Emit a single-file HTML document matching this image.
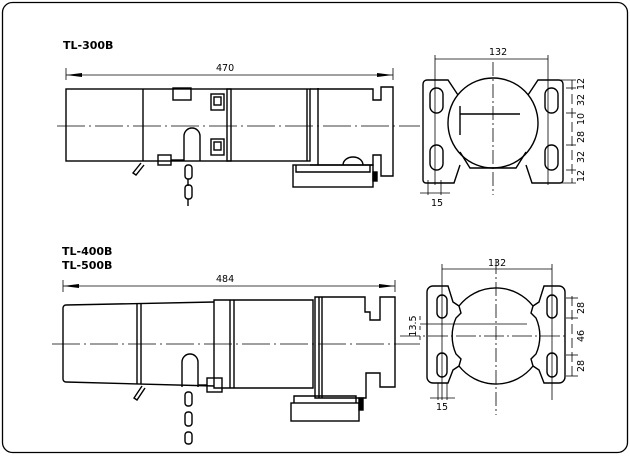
<!DOCTYPE html>
<html><head><meta charset="utf-8"><style>
html,body{margin:0;padding:0;background:#fff;width:630px;height:458px;overflow:hidden}
svg{display:block}
text{font-family:"DejaVu Sans","Liberation Sans",sans-serif;fill:#000}
</style></head><body>
<svg width="630" height="458" viewBox="0 0 630 458" xmlns="http://www.w3.org/2000/svg">
<rect x="2.5" y="2.5" width="625" height="450" rx="10" fill="none" stroke="#000" stroke-width="1.3"/>
<g fill="none" stroke="#000" stroke-width="1.4">
<line x1="66" y1="75" x2="393" y2="75" stroke-width="0.8"/>
<line x1="66" y1="68" x2="66" y2="80" stroke-width="0.8"/>
<line x1="393" y1="68" x2="393" y2="80" stroke-width="0.8"/>
<path d="M66 75 L82 73 L82 77Z M393 75 L377 73 L377 77Z" fill="#000" stroke="none"/>
<line x1="57" y1="126" x2="420" y2="126" stroke-width="0.8" stroke-dasharray="28 4 2 4"/>
<rect x="66" y="89" width="244" height="72"/>
<line x1="143" y1="89" x2="143" y2="161"/>
<rect x="227" y="89" width="4" height="72"/>
<rect x="173" y="88" width="18" height="12"/>
<rect x="211" y="94" width="13" height="16"/><rect x="214" y="97" width="7" height="8"/>
<rect x="211" y="139" width="13" height="16"/><rect x="214" y="142" width="7" height="8"/>
<path d="M184 161 V136 a8 8 0 0 1 16 0 V161"/>
<rect x="158" y="155" width="13" height="10"/>
<line x1="171" y1="160" x2="184" y2="160"/>
<path d="M141 163 l-8 10 l3 2 l8-10"/>
<rect x="185" y="165" width="7" height="14" rx="3"/><rect x="185" y="185" width="7" height="14" rx="3"/>
<line x1="188" y1="179" x2="188" y2="186"/><line x1="188" y1="199" x2="188" y2="206"/>
<path d="M310 89 H373 V100 H381 V87 H393 V176 H381 V155 H373 V165 H310"/>
<line x1="307" y1="89" x2="307" y2="161"/><line x1="318" y1="88" x2="318" y2="165"/>
<rect x="293" y="165" width="80" height="22"/>
<path d="M296 165 V172 H370 V165"/>
<path d="M343 165 a10 8 0 0 1 20 0"/>
<rect x="373" y="172" width="4" height="9" fill="#000"/>
<line x1="435" y1="59" x2="548" y2="59" stroke-width="0.8"/>
<line x1="435" y1="55" x2="435" y2="185" stroke-width="0.8"/>
<line x1="548" y1="55" x2="548" y2="185" stroke-width="0.8"/>
<line x1="493" y1="62" x2="493" y2="195" stroke-width="0.8" stroke-dasharray="14 3 2 3"/>
<circle cx="493" cy="123" r="45"/>
<path d="M458 95 L448 80 H427 a4 4 0 0 0 -4 4 V180 a3 3 0 0 0 3 3 H454 L460 165"/>
<path d="M460 152 L470 168 H516 L526 152"/>
<path d="M528 95 L538 80 H559 a4 4 0 0 1 4 4 V180 a3 3 0 0 1 -3 3 H532 L526 165"/>
<rect x="430" y="88" width="13" height="25" rx="6.5"/><rect x="430" y="145" width="13" height="25" rx="6.5"/>
<rect x="545" y="88" width="13" height="25" rx="6.5"/><rect x="545" y="145" width="13" height="25" rx="6.5"/>
<line x1="460" y1="114" x2="520" y2="114"/><line x1="460" y1="106" x2="460" y2="135"/>
<line x1="572" y1="80" x2="572" y2="183" stroke-width="0.8" stroke-dasharray="10 4"/>
<line x1="558" y1="80" x2="576" y2="80" stroke-width="0.8"/><line x1="558" y1="183" x2="576" y2="183" stroke-width="0.8"/>
<line x1="566" y1="88" x2="576" y2="88" stroke-width="0.8"/><line x1="566" y1="113" x2="576" y2="113" stroke-width="0.8"/>
<line x1="566" y1="145" x2="576" y2="145" stroke-width="0.8"/><line x1="566" y1="170" x2="576" y2="170" stroke-width="0.8"/>
<line x1="428" y1="180" x2="428" y2="195" stroke-width="0.8"/><line x1="441" y1="180" x2="441" y2="195" stroke-width="0.8"/>
<line x1="420" y1="193" x2="450" y2="193" stroke-width="0.8"/>
<line x1="63" y1="286" x2="395" y2="286" stroke-width="0.8"/>
<line x1="63" y1="280" x2="63" y2="292" stroke-width="0.8"/><line x1="395" y1="280" x2="395" y2="292" stroke-width="0.8"/>
<path d="M63 286 L79 284 L79 288Z M395 286 L379 284 L379 288Z" fill="#000" stroke="none"/>
<line x1="52" y1="344" x2="420" y2="344" stroke-width="0.8" stroke-dasharray="28 4 2 4"/>
<path d="M214 302 L66 305 a3 3 0 0 0 -3 3 V379 a3 3 0 0 0 3 3 L214 386"/>
<line x1="137" y1="304" x2="137" y2="384"/><line x1="141" y1="304" x2="141" y2="384"/>
<path d="M214 302 V300 H313 V388 H214 Z"/>
<line x1="230" y1="300" x2="230" y2="388"/><line x1="234" y1="300" x2="234" y2="388"/>
<path d="M315 297 H365 V312 H370 V320 H380 V297 H395 V387 H380 V373 H366 V398 H315 Z"/>
<line x1="319" y1="297" x2="319" y2="398"/><line x1="322" y1="297" x2="322" y2="398"/>
<rect x="291" y="403" width="68" height="18"/><path d="M294 403 V396 H356 V403"/>
<rect x="359" y="398" width="4" height="12" fill="#000"/>
<path d="M182 387 V362 a8 8 0 0 1 16 0 V387"/>
<rect x="207" y="378" width="15" height="14"/><line x1="198" y1="385" x2="207" y2="385"/>
<path d="M142 386 l-8 12 l3 2 l8-12"/>
<rect x="185" y="392" width="7" height="14" rx="3"/><rect x="185" y="412" width="7" height="14" rx="3"/><rect x="185" y="432" width="7" height="12" rx="3"/>
<line x1="442" y1="269" x2="552" y2="269" stroke-width="0.8"/>
<line x1="442" y1="264" x2="442" y2="400" stroke-width="0.8"/><line x1="552" y1="264" x2="552" y2="400" stroke-width="0.8"/>
<line x1="496" y1="260" x2="496" y2="415" stroke-width="0.8" stroke-dasharray="14 3 2 3"/>
<line x1="400" y1="336" x2="567" y2="336" stroke-width="0.8" stroke-dasharray="20 3 2 3"/>
<line x1="420" y1="324" x2="527" y2="324" stroke-width="0.8"/>
<path d="M459 306 A47 47 0 0 1 533 306 L531 313 L536 318 A44 44 0 0 1 536 354 L531 359 L533 366 A47 47 0 0 1 459 366 L461 359 L456 354 A44 44 0 0 1 456 318 L461 313 Z"/>
<path d="M459 306 L453 302 L448 286 H433 a6 6 0 0 0 -6 6 V377 a6 6 0 0 0 6 6 H448 L453 370 L459 366"/>
<path d="M533 306 L539 302 L544 286 H559 a6 6 0 0 1 6 6 V377 a6 6 0 0 1 -6 6 H544 L539 370 L533 366"/>
<rect x="437" y="295" width="10" height="23" rx="5"/><rect x="437" y="353" width="10" height="24" rx="5"/>
<rect x="547" y="295" width="10" height="23" rx="5"/><rect x="547" y="353" width="10" height="24" rx="5"/>
<line x1="572" y1="296" x2="572" y2="378" stroke-width="0.8" stroke-dasharray="10 4"/>
<line x1="566" y1="298" x2="578" y2="298" stroke-width="0.8"/><line x1="566" y1="318" x2="578" y2="318" stroke-width="0.8"/>
<line x1="566" y1="355" x2="578" y2="355" stroke-width="0.8"/><line x1="566" y1="376" x2="578" y2="376" stroke-width="0.8"/>
<line x1="438" y1="383" x2="438" y2="400" stroke-width="0.8"/><line x1="447" y1="383" x2="447" y2="400" stroke-width="0.8"/>
<line x1="430" y1="398" x2="455" y2="398" stroke-width="0.8"/>
<line x1="420" y1="316" x2="420" y2="342" stroke-width="0.8" stroke-dasharray="4 6"/>
</g>
<g font-size="11">
<text x="63" y="49" font-weight="bold">TL-300B</text>
<text x="216" y="71" font-size="9.5">470</text>
<text x="489" y="55" font-size="9.5">132</text>
<text x="431" y="206" font-size="9.5">15</text>
<text x="62" y="255" font-weight="bold">TL-400B</text>
<text x="62" y="269" font-weight="bold">TL-500B</text>
<text x="216" y="282" font-size="9.5">484</text>
<text x="488" y="266" font-size="9.5">132</text>
<text x="436" y="410" font-size="9.5">15</text>
</g>
<g font-size="9.5">
<text transform="translate(584,84) rotate(-90)" text-anchor="middle">12</text>
<text transform="translate(584,100) rotate(-90)" text-anchor="middle">32</text>
<text transform="translate(584,119) rotate(-90)" text-anchor="middle">10</text>
<text transform="translate(584,137) rotate(-90)" text-anchor="middle">28</text>
<text transform="translate(584,157) rotate(-90)" text-anchor="middle">32</text>
<text transform="translate(584,176) rotate(-90)" text-anchor="middle">12</text>
<text transform="translate(584,308) rotate(-90)" text-anchor="middle">28</text>
<text transform="translate(584,336) rotate(-90)" text-anchor="middle">46</text>
<text transform="translate(584,366) rotate(-90)" text-anchor="middle">28</text>
<text transform="translate(416,326) rotate(-90)" text-anchor="middle">13.5</text>
</g>
</svg>
</body></html>
